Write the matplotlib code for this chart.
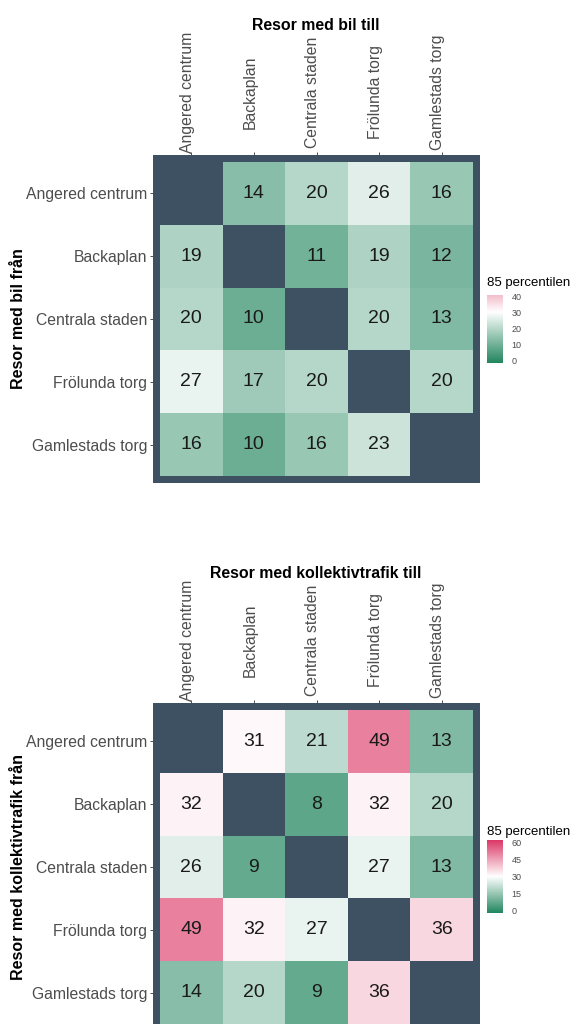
#!/usr/bin/env python3
import numpy as np
import matplotlib
matplotlib.use("Agg")
import matplotlib.pyplot as plt
import matplotlib.transforms as mtransforms
from matplotlib.colors import LinearSegmentedColormap, Normalize

places = ["Angered centrum", "Backaplan", "Centrala staden", "Frölunda torg", "Gamlestads torg"]

# 85th percentile travel times, rows = from, columns = to
bil = np.array([
    [np.nan, 14, 20, 26, 16],
    [19, np.nan, 11, 19, 12],
    [20, 10, np.nan, 20, 13],
    [27, 17, 20, np.nan, 20],
    [16, 10, 16, 23, np.nan],
])
kollektiv = np.array([
    [np.nan, 31, 21, 49, 13],
    [32, np.nan, 8, 32, 20],
    [26, 9, np.nan, 27, 13],
    [49, 32, 27, np.nan, 36],
    [14, 20, 9, 36, np.nan],
])
bil_ticks = [0, 10, 20, 30, 40]
kollektiv_ticks = [0, 15, 30, 45, 60]

W, H = 573, 1024
DARK = "#3d5162"
GREY = "#4d4d4d"
plt.rcParams["font.family"] = ["Liberation Sans", "DejaVu Sans"]

# diverging scale, midpoint 30 (green -> white -> pink)
cmap = LinearSegmentedColormap.from_list("gwp", ["#22865f", "#ffffff", "#db3867"])
norm = Normalize(0, 60)


def px_box(left, top, right, bottom):
    return [left / W, 1 - bottom / H, (right - left) / W, (bottom - top) / H]


def draw_matrix(fig, data, top, title, ylabel):
    ax = fig.add_axes(px_box(153, top, 480, top + 328))
    ax.set_facecolor(DARK)
    n = len(places)
    ax.pcolormesh(np.arange(n + 1) - 0.5, np.arange(n + 1) - 0.5,
                  np.ma.masked_invalid(data), cmap=cmap, norm=norm)
    for i in range(n):
        for j in range(n):
            if not np.isnan(data[i, j]):
                ax.text(j, i, "%d" % data[i, j], ha="center", va="center",
                        fontsize=14, color="#1a1a1a")
    ax.set_xlim(-0.61, n - 0.39)
    ax.set_ylim(n - 0.39, -0.61)
    for s in ax.spines.values():
        s.set_visible(False)

    ax.set_yticks(range(n))
    ax.set_yticklabels(places, fontsize=11.3, color=GREY)
    ax.xaxis.tick_top()
    ax.set_xticks(range(n))
    ax.set_xticklabels([])
    ax.tick_params(length=2.5, width=0.7, color=GREY, pad=1.5)

    # column labels, rotated and centred vertically above the panel
    trans = mtransforms.blended_transform_factory(ax.transData, ax.transAxes)
    trans = mtransforms.offset_copy(trans, fig=fig, x=-4, y=0, units="dots")
    for j, name in enumerate(places):
        ax.text(j, 1 + 63 / 328, name, transform=trans, rotation=90,
                ha="center", va="center", fontsize=11.3, color=GREY)

    fig.text(316 / W, 1 - (top - 130) / H, title, ha="center", va="center",
             fontsize=11.4, fontweight="bold")
    fig.text(19 / W, 1 - (top + 164) / H, ylabel, rotation=90, ha="center",
             va="center", fontsize=11.5, fontweight="bold")
    return ax


def draw_scale(fig, top, bottom, lo, hi, ticks, title_y):
    cax = fig.add_axes(px_box(487, top, 503, bottom))
    grad = np.linspace(0, ticks[-1], 256)[:, None]
    cax.imshow(grad, cmap=cmap, norm=norm, aspect="auto", origin="lower",
               extent=[0, 1, lo, hi])
    cax.set_xlim(0, 1)
    cax.set_ylim(lo, hi)
    cax.set_xticks([])
    cax.yaxis.tick_right()
    cax.set_yticks(ticks)
    cax.set_yticklabels([str(t) for t in ticks], fontsize=6.5, color=GREY)
    cax.tick_params(length=0, pad=6)
    for s in cax.spines.values():
        s.set_visible(False)
    fig.text(487 / W, 1 - title_y / H, "85 percentilen", ha="left",
             va="center", fontsize=9.5)


def plot_matrices():
    fig = plt.figure(figsize=(W / 100, H / 100), dpi=100)
    draw_matrix(fig, bil, 155, "Resor med bil till", "Resor med bil från")
    draw_scale(fig, 295, 363, -1.25, 41.25, bil_ticks, 283)
    draw_matrix(fig, kollektiv, 703, "Resor med kollektivtrafik till",
                "Resor med kollektivtrafik från")
    draw_scale(fig, 840, 913, -1.8, 62.6, kollektiv_ticks, 832)
    fig.savefig("out.png", dpi=100)


if __name__ == '__main__':
    plot_matrices()
